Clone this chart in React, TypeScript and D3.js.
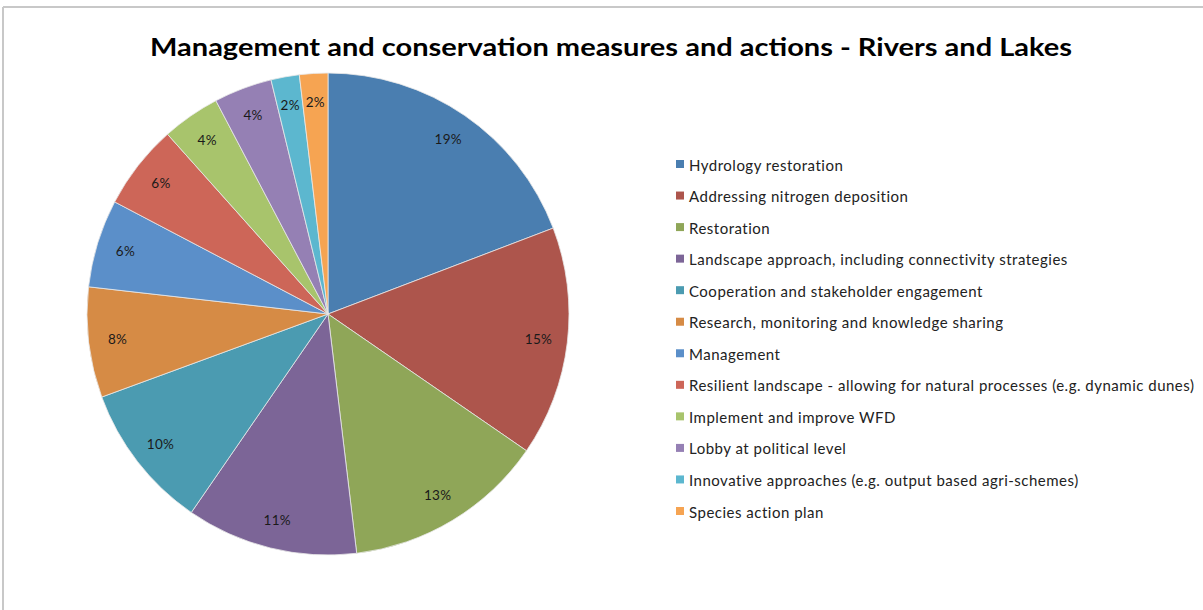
import React from "react";
import * as d3 from "d3";

const categories = [
  "Hydrology restoration",
  "Addressing nitrogen deposition",
  "Restoration",
  "Landscape approach, including connectivity strategies",
  "Cooperation and stakeholder engagement",
  "Research, monitoring and knowledge sharing",
  "Management",
  "Resilient landscape - allowing for natural processes (e.g. dynamic dunes)",
  "Implement and improve WFD",
  "Lobby at political level",
  "Innovative approaches (e.g. output based agri-schemes)",
  "Species action plan",
];
const values = [19.2, 15.4, 13.5, 11.5, 9.8, 7.4, 5.9, 5.7, 3.9, 3.9, 1.9, 1.9];
const labels = ["19%", "15%", "13%", "11%", "10%", "8%", "6%", "6%", "4%", "4%", "2%", "2%"];
const colors = [
  "#4a7eb0", "#ad554c", "#8fa658", "#7c6597", "#4b9bb1", "#d68b45",
  "#5b8fc9", "#cd6658", "#a8c46c", "#9580b4", "#5cb7cf", "#f6a452",
];
const title = "Management and conservation measures and actions - Rivers and Lakes";

export default function App() {
  const W = 1203, H = 610;
  const cx = 328, cy = 314, R = 241;
  const pie = d3.pie<number>().sort(null).value((d) => d)(values);
  const arc = d3.arc<d3.PieArcDatum<number>>().innerRadius(0).outerRadius(R);
  const labelArc = d3.arc<d3.PieArcDatum<number>>().innerRadius(212).outerRadius(212);
  const legendY = d3.scalePoint<number>().domain(d3.range(categories.length)).range([166, 513]);
  const font = "Lato, 'Open Sans', sans-serif";
  return (
    <svg width={W} height={H} style={{ position: "absolute", left: 0, top: 0, background: "#fff" }}>
      <rect x={0} y={0} width={W} height={H} fill="#fff" />
      <line x1={3} y1={7} x2={W} y2={7} stroke="#c8c8c8" strokeWidth={2} />
      <line x1={3} y1={7} x2={3} y2={H} stroke="#c8c8c8" strokeWidth={2} />
      <text x={611} y={56} textAnchor="middle" fontFamily={font} fontWeight="bold" fontSize={25}
        textLength={922} lengthAdjust="spacingAndGlyphs" fill="#000">{title}</text>
      <g transform={`translate(${cx},${cy})`}>
        {pie.map((d, i) => (
          <path key={i} d={arc(d) || ""} fill={colors[i]} stroke="#e8e8e8" strokeWidth={0.8} />
        ))}
        {pie.map((d, i) => {
          const [x, y] = labelArc.centroid(d);
          return (
            <text key={i} x={x} y={y} dy="0.35em" textAnchor="middle" fontFamily={font} fontSize={13.5}
              letterSpacing={0.3} fill="#1a1a1a">
              {labels[i]}
            </text>
          );
        })}
      </g>
      <g>
        {categories.map((c, i) => (
          <g key={i} transform={`translate(676,${legendY(i)})`}>
            <rect x={0} y={-6} width={8} height={8} fill={colors[i]} />
            <text x={13} y={0} dy="0.3em" fontFamily={font} fontSize={15} letterSpacing={0.5} fill="#222">{c}</text>
          </g>
        ))}
      </g>
    </svg>
  );
}
